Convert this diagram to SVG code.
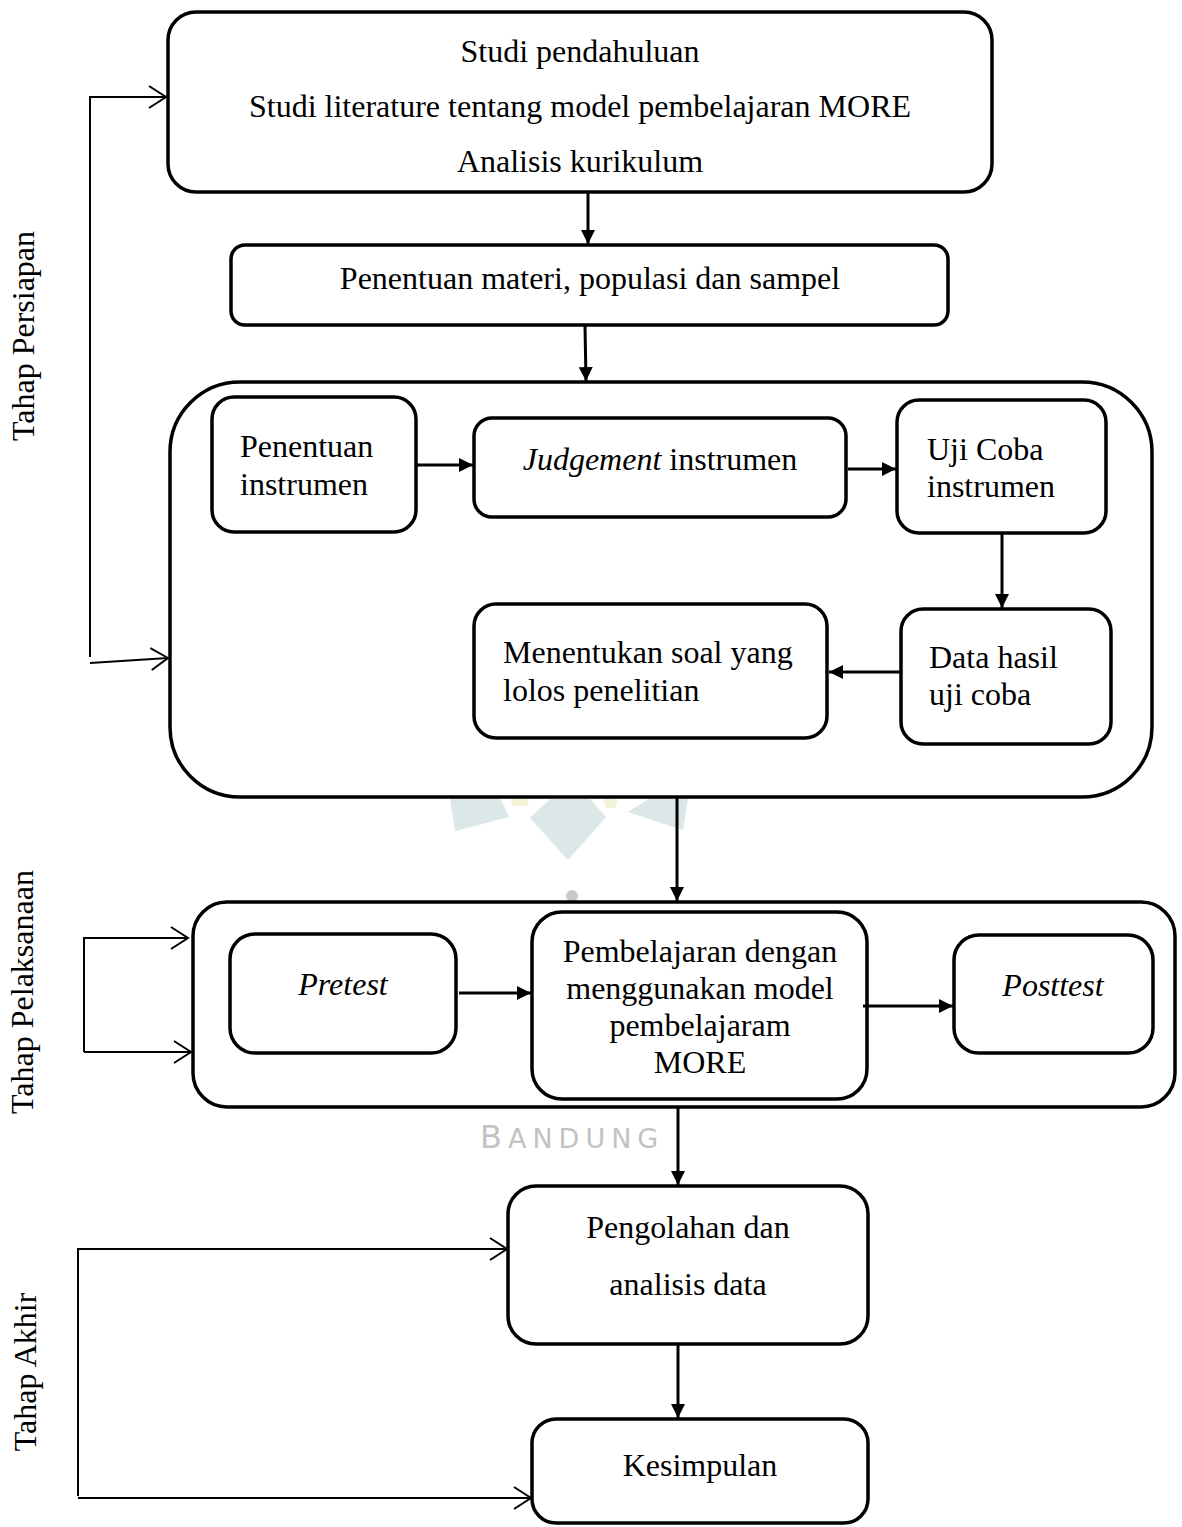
<svg xmlns="http://www.w3.org/2000/svg" width="1182" height="1527" viewBox="0 0 1182 1527">
<defs>
<style>
.box{fill:none;stroke:#000;stroke-width:3.5}
.t{font-family:"Liberation Serif","Times New Roman",serif;font-size:32px;fill:#000}
.c{text-anchor:middle}
.i{font-style:italic}
.con{fill:none;stroke:#000;stroke-width:3}
.br{fill:none;stroke:#000;stroke-width:2}
.wm{fill:#dce7e7}
.wy{fill:#f1f2d8}
</style>
<marker id="ah" markerUnits="userSpaceOnUse" markerWidth="16" markerHeight="16" viewBox="0 0 16 16" refX="15" refY="8" orient="auto">
<path d="M1,1 L15,8 L1,15 Z" fill="#000"/>
</marker>
<marker id="oa" markerUnits="userSpaceOnUse" markerWidth="22" markerHeight="26" viewBox="0 0 22 26" refX="20" refY="13" orient="auto">
<path d="M3,2 L20,13 L3,24" fill="none" stroke="#000" stroke-width="2"/>
</marker>
</defs>
<rect width="1182" height="1527" fill="#fff"/>

<g id="watermark">
<polygon class="wm" points="450,798 500,798 509,817 455,831"/>
<polygon class="wy" points="510,798 530,798 527,806 513,806"/>
<polygon class="wm" points="530,818 550,799 590,799 606,817 568,860"/>
<polygon class="wy" points="603,798 618,798 615,808 606,808"/>
<polygon class="wm" points="628,812 650,798 688,798 683,830"/>
<circle cx="572" cy="896" r="6" fill="#c9c9c9"/>
<text x="480" y="1148" font-family="DejaVu Sans, sans-serif" fill="#c2c2c2" letter-spacing="6"><tspan font-size="32">B</tspan><tspan font-size="27">ANDUNG</tspan></text>
</g>

<g id="labels">
<text class="t c" transform="translate(34,336) rotate(-90)">Tahap Persiapan</text>
<text class="t c" transform="translate(33,992) rotate(-90)">Tahap Pelaksanaan</text>
<text class="t c" transform="translate(36,1372) rotate(-90)">Tahap Akhir</text>
</g>

<g id="studi">
<rect class="box" x="168" y="12" width="824" height="180" rx="28"/>
<text class="t c" x="580" y="62">Studi pendahuluan</text>
<text class="t c" x="580" y="117">Studi literature tentang model pembelajaran MORE</text>
<text class="t c" x="580" y="172">Analisis kurikulum</text>
</g>

<g id="penentuan-materi">
<rect class="box" x="231" y="245" width="717" height="80" rx="14"/>
<text class="t c" x="590" y="289">Penentuan materi, populasi dan sampel</text>
</g>

<g id="instrumen-group">
<rect class="box" x="170" y="382" width="982" height="415" rx="70"/>
</g>

<g id="penentuan-instrumen">
<rect class="box" x="212" y="397" width="204" height="135" rx="22"/>
<text class="t" x="240" y="457">Penentuan</text>
<text class="t" x="240" y="495">instrumen</text>
</g>

<g id="judgement">
<rect class="box" x="474" y="418" width="372" height="99" rx="18"/>
<text class="t c" x="660" y="470"><tspan class="i">Judgement</tspan> instrumen</text>
</g>

<g id="uji-coba">
<rect class="box" x="897" y="400" width="209" height="133" rx="22"/>
<text class="t" x="927" y="460">Uji Coba</text>
<text class="t" x="927" y="497">instrumen</text>
</g>

<g id="data-hasil">
<rect class="box" x="901" y="609" width="210" height="135" rx="22"/>
<text class="t" x="929" y="668">Data hasil</text>
<text class="t" x="929" y="705">uji coba</text>
</g>

<g id="menentukan">
<rect class="box" x="474" y="604" width="353" height="134" rx="22"/>
<text class="t" x="503" y="663">Menentukan soal yang</text>
<text class="t" x="503" y="701">lolos penelitian</text>
</g>

<g id="pelaksanaan-group">
<rect class="box" x="193" y="902" width="982" height="205" rx="34"/>
</g>

<g id="pretest">
<rect class="box" x="230" y="934" width="226" height="119" rx="25"/>
<text class="t c i" x="343" y="995">Pretest</text>
</g>

<g id="pembelajaran">
<rect class="box" x="532" y="912" width="335" height="187" rx="30"/>
<text class="t c" x="700" y="962">Pembelajaran dengan</text>
<text class="t c" x="700" y="999">menggunakan model</text>
<text class="t c" x="700" y="1036">pembelajaram</text>
<text class="t c" x="700" y="1073">MORE</text>
</g>

<g id="posttest">
<rect class="box" x="954" y="935" width="199" height="118" rx="25"/>
<text class="t c i" x="1053" y="996">Posttest</text>
</g>

<g id="pengolahan">
<rect class="box" x="508" y="1186" width="360" height="158" rx="28"/>
<text class="t c" x="688" y="1238">Pengolahan dan</text>
<text class="t c" x="688" y="1295">analisis data</text>
</g>

<g id="kesimpulan">
<rect class="box" x="532" y="1419" width="336" height="104" rx="24"/>
<text class="t c" x="700" y="1476">Kesimpulan</text>
</g>

<g id="connectors">
<line class="con" x1="588" y1="193" x2="588" y2="244" marker-end="url(#ah)"/>
<line class="con" x1="585" y1="326" x2="586" y2="381" marker-end="url(#ah)"/>
<line class="con" x1="417" y1="465" x2="473" y2="465" marker-end="url(#ah)"/>
<line class="con" x1="848" y1="469" x2="896" y2="469" marker-end="url(#ah)"/>
<line class="con" x1="1002" y1="534" x2="1002" y2="608" marker-end="url(#ah)"/>
<line class="con" x1="900" y1="672" x2="829" y2="672" marker-end="url(#ah)"/>
<line class="con" x1="677" y1="798" x2="677" y2="901" marker-end="url(#ah)"/>
<line class="con" x1="459" y1="993" x2="531" y2="993" marker-end="url(#ah)"/>
<line class="con" x1="863" y1="1006" x2="953" y2="1006" marker-end="url(#ah)"/>
<line class="con" x1="678" y1="1108" x2="678" y2="1185" marker-end="url(#ah)"/>
<line class="con" x1="678" y1="1345" x2="678" y2="1418" marker-end="url(#ah)"/>
<path class="br" d="M90,657 V97 H166" marker-end="url(#oa)"/>
<path class="br" d="M90,663 L168,658" marker-end="url(#oa)"/>
<path class="br" d="M84,1052 V938 H188" marker-end="url(#oa)"/>
<path class="br" d="M84,1052 H191" marker-end="url(#oa)"/>
<path class="br" d="M78,1496 V1249 H507" marker-end="url(#oa)"/>
<path class="br" d="M78,1498 H531" marker-end="url(#oa)"/>
</g>
</svg>
